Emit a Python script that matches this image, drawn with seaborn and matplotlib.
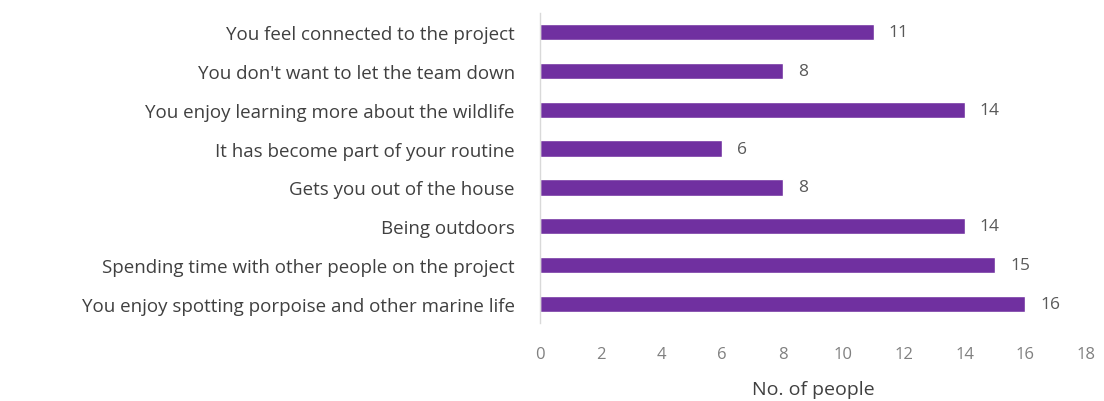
import matplotlib
matplotlib.use("Agg")
import matplotlib.pyplot as plt
import seaborn as sns
import pandas as pd

reasons = [
    "You feel connected to the project",
    "You don't want to let the team down",
    "You enjoy learning more about the wildlife",
    "It has become part of your routine",
    "Gets you out of the house",
    "Being outdoors",
    "Spending time with other people on the project",
    "You enjoy spotting porpoise and other marine life",
]
counts = [11, 8, 14, 6, 8, 14, 15, 16]
x_ticks = [0, 2, 4, 6, 8, 10, 12, 14, 16, 18]

sns.set_theme(style="white")
plt.rcParams["font.family"] = ["Open Sans", "DejaVu Sans"]

df = pd.DataFrame({"reason": reasons, "count": counts})

fig = plt.figure(figsize=(11.04, 4.02), dpi=100)
ax = fig.add_axes([0.4891, 0.1928, 0.4946, 0.7734])

sns.barplot(data=df, x="count", y="reason", orient="h", color="#7030A0",
            saturation=1, width=0.42, ax=ax)

ax.set_xlim(0, 18)
ax.set_ylim(len(reasons) - 0.5, -0.5)
ax.set_xticks(x_ticks)
ax.tick_params(axis="x", length=0, labelsize=12, labelcolor="#808080", pad=16)
ax.tick_params(axis="y", length=0, labelsize=13.5, labelcolor="#404040", pad=18)
ax.set_ylabel("")
ax.set_xlabel("No. of people", fontsize=14, color="#404040", labelpad=13)

for s in ["top", "right", "bottom"]:
    ax.spines[s].set_visible(False)
ax.spines["left"].set_color("#d9d9d9")
ax.spines["left"].set_linewidth(1)

for i, v in enumerate(counts):
    ax.text(v + 0.5, i, str(v), va="center", ha="left", fontsize=12.5, color="#595959")

fig.savefig("out.png", dpi=100)
